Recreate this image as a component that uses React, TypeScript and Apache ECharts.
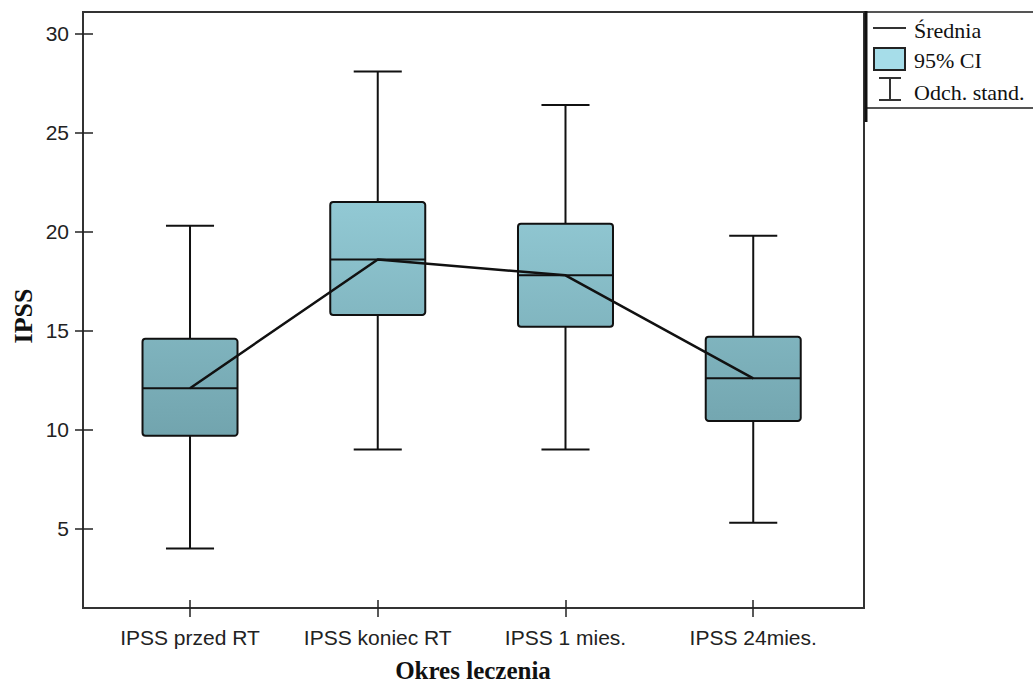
import React, { useEffect, useRef } from "react";
import * as echarts from "echarts";

const categories = ["IPSS przed RT", "IPSS koniec RT", "IPSS 1 mies.", "IPSS 24mies."];
const means = [12.1, 18.6, 17.8, 12.6];
const ciLow = [9.7, 15.8, 15.2, 10.45];
const ciHigh = [14.6, 21.5, 20.4, 14.7];
const sdLow = [4.0, 9.0, 9.0, 5.3];
const sdHigh = [20.3, 28.1, 26.4, 19.8];
const yTicks = [5, 10, 15, 20, 25, 30];
const xTicks = [1, 2, 3, 4];
const legendLabels = ["Średnia", "95% CI", "Odch. stand."];

const GRID_TOP = 12;
const GRID_BOTTOM_Y = 608;

export default function App() {
  const ref = useRef<HTMLDivElement>(null);
  useEffect(() => {
    if (!ref.current) return;
    const chart = echarts.init(ref.current, undefined, { renderer: "svg" });
    const boxData = categories.map((_, i) => [i + 1, means[i], ciLow[i], ciHigh[i], sdLow[i], sdHigh[i]]);
    const fill = new echarts.graphic.LinearGradient(
      0, GRID_TOP, 0, GRID_BOTTOM_Y,
      [
        { offset: 0, color: "#ace7f3" },
        { offset: 1, color: "#5a8992" },
      ],
      true
    );
    const tickLabelStyle = { fontFamily: "Liberation Sans, Arial, sans-serif", fontSize: 21, color: "#222" };
    const option: any = {
      animation: false,
      backgroundColor: "#fff",
      grid: {
        left: 83, right: 169, top: GRID_TOP, bottom: 685 - GRID_BOTTOM_Y,
        show: true, borderColor: "#333", borderWidth: 2, backgroundColor: "transparent",
      },
      xAxis: [
        {
          type: "value", min: 0.43, max: 4.59,
          axisLine: { show: false },
          splitLine: { show: false },
          axisTick: { show: true, inside: false, length: 9, customValues: xTicks, lineStyle: { color: "#222", width: 1.5 } },
          axisLabel: {
            show: true, customValues: xTicks, margin: 19, ...tickLabelStyle,
            formatter: (v: number) => categories[Math.round(v) - 1] ?? "",
          },
        },
        {
          type: "value", min: 0.43, max: 4.59, position: "bottom",
          axisLine: { show: false },
          splitLine: { show: false },
          axisTick: { show: true, inside: true, length: 8, customValues: xTicks, lineStyle: { color: "#222", width: 1.5 } },
          axisLabel: { show: false },
        },
      ],
      yAxis: [
        {
          type: "value", min: 1, max: 31.1,
          axisLine: { show: false },
          splitLine: { show: false },
          axisTick: { show: true, inside: false, length: 8, customValues: yTicks, lineStyle: { color: "#222", width: 1.5 } },
          axisLabel: { show: true, customValues: yTicks, margin: 14, ...tickLabelStyle },
        },
        {
          type: "value", min: 1, max: 31.1, position: "left",
          axisLine: { show: false },
          splitLine: { show: false },
          axisTick: { show: true, inside: true, length: 10, customValues: yTicks, lineStyle: { color: "#222", width: 1.5 } },
          axisLabel: { show: false },
        },
      ],
      series: [
        {
          type: "custom",
          xAxisIndex: 0,
          yAxisIndex: 0,
          data: boxData,
          encode: { x: 0, y: [1, 2, 3, 4, 5] },
          z: 2,
          renderItem: (params: any, api: any) => {
            const x = api.value(0);
            const pMean = api.coord([x, api.value(1)]);
            const pCiL = api.coord([x, api.value(2)]);
            const pCiH = api.coord([x, api.value(3)]);
            const pSdL = api.coord([x, api.value(4)]);
            const pSdH = api.coord([x, api.value(5)]);
            const halfBox = api.size([0.253, 0])[0];
            const halfCap = api.size([0.128, 0])[0];
            const cx = pMean[0];
            const ls = { stroke: "#111", lineWidth: 2 };
            return {
              type: "group",
              children: [
                { type: "line", shape: { x1: cx, y1: pSdH[1], x2: cx, y2: pSdL[1] }, style: ls },
                { type: "line", shape: { x1: cx - halfCap, y1: pSdH[1], x2: cx + halfCap, y2: pSdH[1] }, style: ls },
                { type: "line", shape: { x1: cx - halfCap, y1: pSdL[1], x2: cx + halfCap, y2: pSdL[1] }, style: ls },
                {
                  type: "rect",
                  shape: { x: cx - halfBox, y: pCiH[1], width: halfBox * 2, height: pCiL[1] - pCiH[1], r: 3 },
                  style: { fill, stroke: "#111", lineWidth: 2 },
                },
                { type: "line", shape: { x1: cx - halfBox, y1: pMean[1], x2: cx + halfBox, y2: pMean[1] }, style: ls },
              ],
            };
          },
        },
        {
          type: "line",
          xAxisIndex: 0,
          yAxisIndex: 0,
          data: categories.map((_, i) => [i + 1, means[i]]),
          symbol: "none",
          lineStyle: { color: "#111", width: 2.5 },
          z: 5,
        },
      ],
      graphic: [
        {
          type: "text", x: 23, y: 316, rotation: Math.PI / 2,
          style: { text: "IPSS", font: "bold 26px 'Liberation Serif', 'Times New Roman', serif", fill: "#111", align: "center", verticalAlign: "middle" },
        },
        {
          type: "text", x: 473, y: 670,
          style: { text: "Okres leczenia", font: "bold 25px 'Liberation Serif', 'Times New Roman', serif", fill: "#111", align: "center", verticalAlign: "middle" },
        },
        { type: "line", shape: { x1: 865, y1: 12, x2: 1033, y2: 12 }, style: { stroke: "#555", lineWidth: 2 } },
        { type: "line", shape: { x1: 865, y1: 108, x2: 1033, y2: 108 }, style: { stroke: "#555", lineWidth: 2 } },
        { type: "line", shape: { x1: 866, y1: 11, x2: 866, y2: 122 }, style: { stroke: "#111", lineWidth: 3 } },
        { type: "line", shape: { x1: 873, y1: 28, x2: 906, y2: 28 }, style: { stroke: "#333", lineWidth: 2 } },
        { type: "rect", shape: { x: 874, y: 48, width: 31, height: 22 }, style: { fill: "#a6dde9", stroke: "#222", lineWidth: 2 } },
        { type: "line", shape: { x1: 890, y1: 78, x2: 890, y2: 100 }, style: { stroke: "#333", lineWidth: 2 } },
        { type: "line", shape: { x1: 879, y1: 78, x2: 901, y2: 78 }, style: { stroke: "#333", lineWidth: 2 } },
        { type: "line", shape: { x1: 879, y1: 100, x2: 901, y2: 100 }, style: { stroke: "#333", lineWidth: 2 } },
        ...legendLabels.map((t, i) => ({
          type: "text", x: 914, y: [30, 60, 92][i],
          style: { text: t, font: "22px 'Liberation Serif', 'Times New Roman', serif", fill: "#111", verticalAlign: "middle" },
        })),
      ],
    };
    chart.setOption(option);
    return () => chart.dispose();
  }, []);
  return <div ref={ref} style={{ width: 1033, height: 685, position: "fixed", left: 0, top: 0 }} />;
}
